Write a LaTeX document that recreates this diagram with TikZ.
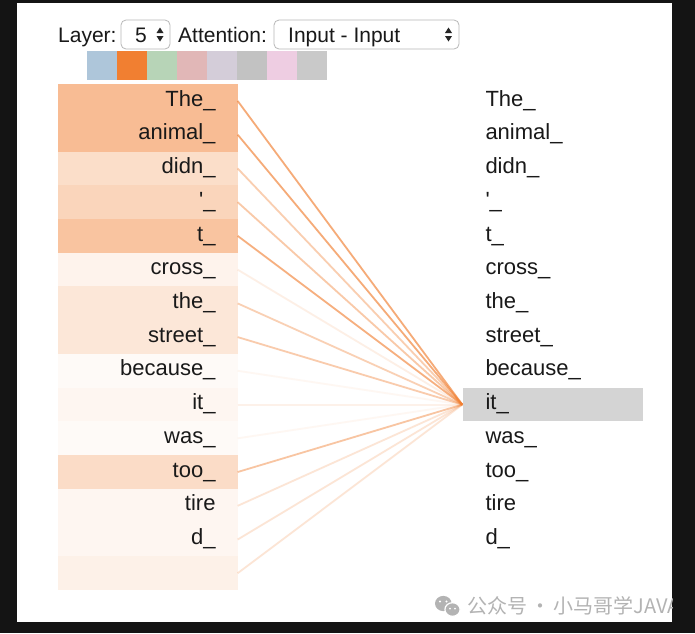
\documentclass[tikz,border=0pt]{standalone}
\usepackage{fontspec}
\setmainfont{Liberation Sans}
\newfontfamily\cjkfont{Noto Sans CJK SC}
\definecolor{attn}{HTML}{F17F31}
\definecolor{panelbg}{HTML}{141414}
\definecolor{hlgray}{HTML}{D4D4D4}
\definecolor{wmgray}{HTML}{B3B3B3}
\definecolor{sw1}{HTML}{AEC6DA}
\definecolor{sw2}{HTML}{F17F31}
\definecolor{sw3}{HTML}{B7D4B7}
\definecolor{sw4}{HTML}{E1B7B7}
\definecolor{sw5}{HTML}{D4CDD9}
\definecolor{sw6}{HTML}{C2C2C2}
\definecolor{sw7}{HTML}{EECDE2}
\definecolor{sw8}{HTML}{C9C9C9}

\begin{document}
\begin{tikzpicture}[x=1pt,y=-1pt,
		tok/.style={minimum height=34pt,inner ysep=0pt,text height=15.8pt,text depth=5.5pt,
			text=black!90,font=\fontsize{22}{26}\selectfont},
		lefttok/.style={tok,text width=136pt,inner xsep=22pt,align=right},
		righttok/.style={tok,text width=134pt,inner xsep=23pt,align=left},
		wline/.style={attn,line width=1.8pt,opacity=#1},
		selbox/.style={draw=black!28,fill=white,rounded corners=5pt,line width=0.8pt,minimum height=29pt},
		hdr/.style={anchor=base west,inner sep=0pt,text=black!90,font=\fontsize{21}{24}\selectfont},
		swatch/.style={minimum width=30pt,minimum height=29pt,inner sep=0pt}]
		\useasboundingbox (0,0) rectangle (695,633);
		\fill[panelbg] (0,0) rectangle (695,633);
		\fill[white] (17,3) rectangle (672,622);
		%\draw[help lines,step=20] (0,0) grid (695,633);

		\node[hdr] (layer) at (58,42) {Layer:};
		\node[selbox,minimum width=49pt] (layersel) at (145.5,34.5) {};
		\node[hdr] (layerval) at (135,42) {5};
		\fill[black!85] (156.5,33) -- (163.5,33) -- (160,27.5) -- cycle;
		\fill[black!85] (156.5,36) -- (163.5,36) -- (160,41.5) -- cycle;
		\node[hdr] (attlabel) at (178,42) {Attention:};
		\node[selbox,minimum width=185pt] (attsel) at (366.5,34.5) {};
		\node[hdr] (attval) at (288,42) {Input - Input};
		\fill[black!85] (445,33) -- (452,33) -- (448.5,27.5) -- cycle;
		\fill[black!85] (445,36) -- (452,36) -- (448.5,41.5) -- cycle;

		\node[swatch,fill=sw1] (h1) at (102,65.5) {};
		\node[swatch,fill=sw2] (h2) at (132,65.5) {};
		\node[swatch,fill=sw3] (h3) at (162,65.5) {};
		\node[swatch,fill=sw4] (h4) at (192,65.5) {};
		\node[swatch,fill=sw5] (h5) at (222,65.5) {};
		\node[swatch,fill=sw6] (h6) at (252,65.5) {};
		\node[swatch,fill=sw7] (h7) at (282,65.5) {};
		\node[swatch,fill=sw8] (h8) at (312,65.5) {};

		\node[lefttok,fill=attn!52] (l1) at (147.5,101.0) {The\_};
		\node[lefttok,fill=attn!52] (l2) at (147.5,134.7) {animal\_};
		\node[lefttok,fill=attn!26] (l3) at (147.5,168.5) {didn\_};
		\node[lefttok,fill=attn!33] (l4) at (147.5,202.2) {\textquotesingle\_};
		\node[lefttok,fill=attn!46] (l5) at (147.5,235.9) {t\_};
		\node[lefttok,fill=attn!9] (l6) at (147.5,269.7) {cross\_};
		\node[lefttok,fill=attn!19] (l7) at (147.5,303.4) {the\_};
		\node[lefttok,fill=attn!19] (l8) at (147.5,337.1) {street\_};
		\node[lefttok,fill=attn!4] (l9) at (147.5,370.8) {because\_};
		\node[lefttok,fill=attn!7] (l10) at (147.5,404.6) {it\_};
		\node[lefttok,fill=attn!4] (l11) at (147.5,438.3) {was\_};
		\node[lefttok,fill=attn!27] (l12) at (147.5,472.0) {too\_};
		\node[lefttok,fill=attn!7] (l13) at (147.5,505.8) {tire};
		\node[lefttok,fill=attn!7] (l14) at (147.5,539.5) {d\_};
		\node[lefttok,fill=attn!11,minimum height=33.7pt] (l15) at (147.5,573.2) {};

		\node[righttok] (r1) at (552.5,101.0) {The\_};
		\node[righttok] (r2) at (552.5,134.7) {animal\_};
		\node[righttok] (r3) at (552.5,168.5) {didn\_};
		\node[righttok] (r4) at (552.5,202.2) {\textquotesingle\_};
		\node[righttok] (r5) at (552.5,235.9) {t\_};
		\node[righttok] (r6) at (552.5,269.7) {cross\_};
		\node[righttok] (r7) at (552.5,303.4) {the\_};
		\node[righttok] (r8) at (552.5,337.1) {street\_};
		\node[righttok] (r9) at (552.5,370.8) {because\_};
		\node[righttok,fill=hlgray,minimum height=33.7pt] (r10) at (552.5,404.6) {it\_};
		\node[righttok] (r11) at (552.5,438.3) {was\_};
		\node[righttok] (r12) at (552.5,472.0) {too\_};
		\node[righttok] (r13) at (552.5,505.8) {tire};
		\node[righttok] (r14) at (552.5,539.5) {d\_};

		\draw[wline=0.65] (l1.east) -- (r10.west);
		\draw[wline=0.65] (l2.east) -- (r10.west);
		\draw[wline=0.38] (l3.east) -- (r10.west);
		\draw[wline=0.42] (l4.east) -- (r10.west);
		\draw[wline=0.62] (l5.east) -- (r10.west);
		\draw[wline=0.12] (l6.east) -- (r10.west);
		\draw[wline=0.36] (l7.east) -- (r10.west);
		\draw[wline=0.4] (l8.east) -- (r10.west);
		\draw[wline=0.06] (l9.east) -- (r10.west);
		\draw[wline=0.1] (l10.east) -- (r10.west);
		\draw[wline=0.06] (l11.east) -- (r10.west);
		\draw[wline=0.45] (l12.east) -- (r10.west);
		\draw[wline=0.2] (l13.east) -- (r10.west);
		\draw[wline=0.2] (l14.east) -- (r10.west);
		\draw[wline=0.2] (l15.east) -- (r10.west);

		\begin{scope}
			\clip (17,3) rectangle (672,622);
			\fill[wmgray] (443.3,603.5) ellipse [x radius=8.3,y radius=7.6];
			\filldraw[wmgray,draw=white,line width=1.2pt] (452.5,609.5) ellipse [x radius=7.6,y radius=6.8];
			\fill[white] (440,601.5) circle (1.2) (446.5,601.5) circle (1.2);
			\fill[white] (450,608.5) circle (1) (455,608.5) circle (1);
			\node[anchor=base west,inner sep=0pt,text=wmgray,font=\cjkfont\fontsize{20}{22}\selectfont] (wm) at (467,613.5) {公众号\,·\,小马哥学JAVA};
		\end{scope}
	\end{tikzpicture}
\end{document}
